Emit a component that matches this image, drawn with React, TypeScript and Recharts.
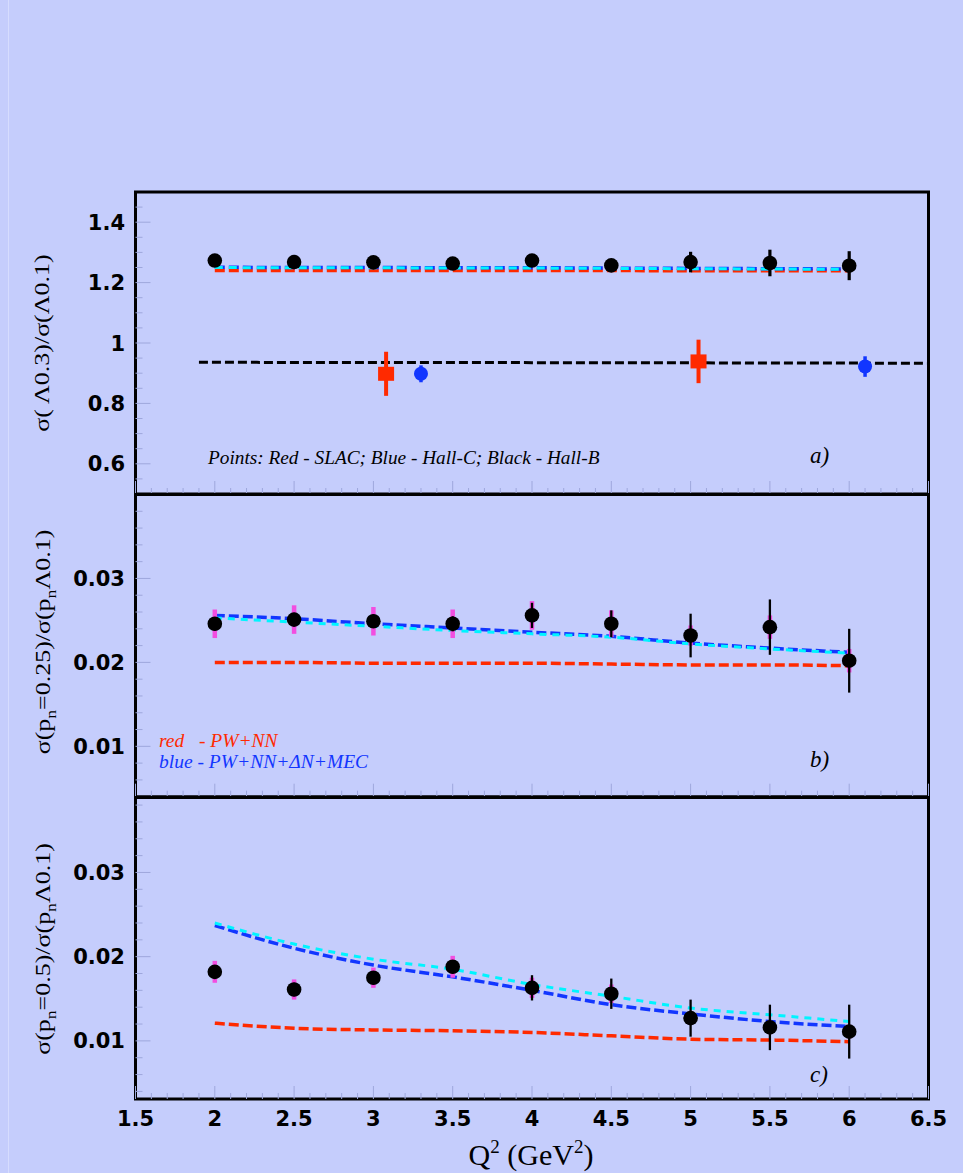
import React from 'react';
import { ComposedChart, Line, Scatter, XAxis, YAxis, ErrorBar, ReferenceArea } from 'recharts';

// Q^2 values (GeV^2) of the measured points and the model curves
const q2 = [2, 2.5, 3, 3.5, 4, 4.5, 5, 5.5, 6];

// panel a) sigma(0.3)/sigma(0.1)
const aHallB = [1.273, 1.268, 1.267, 1.263, 1.273, 1.257, 1.268, 1.265, 1.256];
const aHallBErr = [0.01, 0.01, 0.01, 0.01, 0.01, 0.01, 0.034, 0.044, 0.048];
const aRed = [1.24, 1.24, 1.24, 1.24, 1.24, 1.24, 1.239, 1.239, 1.239];
const aBlue = [1.251, 1.25, 1.25, 1.249, 1.249, 1.248, 1.247, 1.246, 1.245];
const aCyan = [1.25, 1.249, 1.249, 1.248, 1.248, 1.247, 1.246, 1.245, 1.244];
const slacQ2 = [3.08, 5.05];
const slacVal = [0.898, 0.939];
const slacErr = [0.073, 0.072];
const hallCQ2 = [3.3, 6.1];
const hallCVal = [0.898, 0.922];
const hallCErr = [0.028, 0.034];
const refQ2 = [1.9, 4, 6.5];
const refVal = [0.936, 0.935, 0.933];

// panel b) p_n = 0.25
const bPoints = [0.0246, 0.0251, 0.0249, 0.0246, 0.0256, 0.0246, 0.0232, 0.0242, 0.0202];
const bStat = [0.0008, 0.0008, 0.0008, 0.0009, 0.0015, 0.0016, 0.0026, 0.0033, 0.0038];
const bSys = [0.0017, 0.0017, 0.0017, 0.0017, 0.0017, 0.0016, 0.0012, 0.0014, 0.0014];
const bRed = [0.02, 0.02, 0.0199, 0.0199, 0.0199, 0.0198, 0.0197, 0.0197, 0.0196];
const bBlue = [0.0256, 0.0252, 0.0246, 0.0241, 0.0236, 0.0231, 0.0223, 0.0217, 0.0212];
const bCyan = [0.0253, 0.0248, 0.0243, 0.0238, 0.0234, 0.023, 0.0222, 0.0216, 0.0211];

// panel c) p_n = 0.5
const cPoints = [0.0182, 0.0161, 0.0175, 0.0188, 0.0163, 0.0156, 0.0127, 0.0116, 0.0111];
const cStat = [0.0008, 0.0008, 0.0008, 0.0008, 0.0015, 0.0018, 0.0022, 0.0027, 0.0032];
const cSys = [0.0013, 0.0012, 0.0012, 0.0013, 0.0012, 0.0011, 0.0008, 0.0008, 0.0008];
const cRed = [0.0121, 0.0115, 0.0113, 0.0112, 0.011, 0.0106, 0.0102, 0.0101, 0.0099];
const cBlue = [0.0237, 0.021, 0.019, 0.0176, 0.016, 0.0143, 0.0132, 0.0123, 0.0117];
const cCyan = [0.024, 0.0215, 0.0197, 0.0185, 0.0167, 0.0153, 0.0139, 0.0131, 0.0123];

// axis ticks (labelled ones)
const xTicks = [1.5, 2, 2.5, 3, 3.5, 4, 4.5, 5, 5.5, 6, 6.5];
const aTicks = [0.6, 0.8, 1, 1.2, 1.4];
const pnTicks = [0.01, 0.02, 0.03];

// minor tick positions between from and to
const steps = (from: number, to: number, step: number) => {
  const n = Math.round((to - from) / step);
  return Array.from({ length: n + 1 }, (_, i) => Math.round((from + i * step) * 10000) / 10000);
};
const xAll = steps(1.5, 6.5, 0.1);

const W = 963;
const BG = '#c5cdfc';
const TICK = '#9ea7dc';
const RED = '#ff2a00';
const BLUE = '#1236ff';
const CYAN = '#00f4ff';
const MAGENTA = '#f24ee0';
const YM = 10.5; // gap between y labels and frame
const XM = 12; // gap between frame and x labels

type Pt = { x: number; y: number; err?: number };
const pts = (xs: number[], ys: number[], errs?: number[]): Pt[] =>
  xs.map((x, i) => ({ x, y: ys[i], err: errs ? errs[i] : undefined }));

const labelFont = { fill: '#000', fontSize: 21, fontWeight: 'bold', fontFamily: 'DejaVu Sans' } as const;

const isIn = (list: number[], v: number) => list.some((t) => Math.abs(t - v) < 1e-9);

// y tick: label for major values, inner tick line for all
const yTick = (major: number[]) => (p: any) => {
  const v = p.payload.value;
  const big = isIn(major, v);
  const x0 = p.x + YM;
  return (
    <g>
      <line x1={x0} x2={x0 + (big ? 15 : 7)} y1={p.y} y2={p.y} stroke={TICK} strokeWidth={1} />
      {big && <text x={p.x} y={p.y} dy="0.36em" textAnchor="end" {...labelFont}>{v}</text>}
    </g>
  );
};

// x tick: inner tick line, label only when asked
const xTick = (withLabel: boolean, margin: number) => (p: any) => {
  const v = p.payload.value;
  const big = isIn(xTicks, v);
  const y0 = p.y - margin;
  return (
    <g>
      <line x1={p.x} x2={p.x} y1={y0} y2={y0 - (big ? 13 : 6)} stroke={TICK} strokeWidth={1} />
      {withLabel && big && <text x={p.x} y={p.y} dy="0.71em" textAnchor="middle" {...labelFont}>{v}</text>}
    </g>
  );
};

const dot = (color: string, r: number) => (p: any) => <circle cx={p.cx} cy={p.cy} r={r} fill={color} />;
const square = (color: string) => (p: any) => <rect x={p.cx - 8} y={p.cy - 7} width={16} height={14} fill={color} />;
const none = () => <g />;

const curve = (key: string, data: Pt[], color: string, width: number, dash: string) => (
  <Line key={key} data={data} dataKey="y" type="monotone" stroke={color} strokeWidth={width}
    strokeDasharray={dash} dot={false} activeDot={false} isAnimationActive={false} />
);

const points = (key: string, data: Pt[], shape: any, barColor: string, barWidth: number) => (
  <Scatter key={key} data={data} dataKey="y" shape={shape} isAnimationActive={false}>
    <ErrorBar dataKey="err" direction="y" width={0} stroke={barColor} strokeWidth={barWidth} isAnimationActive={false} />
  </Scatter>
);

const measured = (vals: number[], stat: number[], sys: number[]) => [
  points('sys', pts(q2, vals, sys), none, MAGENTA, 4.5),
  points('stat', pts(q2, vals, stat), dot('#000', 7.3), '#000', 2.3),
];

const modelCurves = (red: number[], blue: number[], cyan: number[]) => [
  curve('red', pts(q2, red), RED, 3.5, '10 4'),
  curve('blue', pts(q2, blue), BLUE, 3.5, '10 4'),
  curve('cyan', pts(q2, cyan), CYAN, 3, '7 6'),
];

function Panel({ top, height, margin, yDomain, yMajor, yAll, showX, children }: any) {
  const xm = showX ? XM : 0;
  return (
    <div style={{ position: 'absolute', left: 0, top, width: W, height }}>
      <ComposedChart width={W} height={height} margin={margin}>
        <XAxis dataKey="x" type="number" domain={[1.5, 6.5]} allowDataOverflow ticks={xAll} interval={0}
          height={showX ? 40 : 1} tickLine={false} axisLine={false} tickSize={0} tickMargin={xm}
          tick={xTick(showX, xm)} />
        <YAxis dataKey="y" type="number" domain={yDomain} allowDataOverflow ticks={yAll} interval={0}
          width={135.5} tickLine={false} axisLine={false} tickSize={0} tickMargin={YM} tick={yTick(yMajor)} />
        {children}
        <ReferenceArea x1={1.5} x2={6.5} y1={yDomain[0]} y2={yDomain[1]} fill="none" fillOpacity={0}
          stroke="#000" strokeWidth={3} ifOverflow="visible" />
      </ComposedChart>
    </div>
  );
}

const serif = 'Liberation Serif, Times New Roman, serif';

export default function App() {
  const aDomain = [0.5, 1.5];
  const bDomain = [0.004, 0.04];
  const cDomain = [0.0031, 0.0389];
  return (
    <div style={{ position: 'absolute', left: 0, top: 0, width: W, height: 1173, background: BG, overflow: 'hidden' }}>
      <div style={{ position: 'absolute', left: 8, top: 0, width: 1, height: 1173, background: '#d6dcfe' }} />

      <Panel top={0} height={500} margin={{ top: 192, right: 34.5, bottom: 5, left: 0 }}
        yDomain={aDomain} yMajor={aTicks} yAll={steps(0.55, 1.45, 0.05)} showX={false}>
        {[
          curve('ared', pts(q2, aRed), RED, 3.5, '10 4'),
          curve('ablue', pts(q2, aBlue), BLUE, 3.5, '10 4'),
          curve('acyan', pts(q2, aCyan), CYAN, 3, '8 6'),
          curve('aref', pts(refQ2, refVal), '#000', 3, '9 4'),
          points('hallb', pts(q2, aHallB, aHallBErr), dot('#000', 7.3), '#000', 3.2),
          points('slac', pts(slacQ2, slacVal, slacErr), square(RED), RED, 4),
          points('hallc', pts(hallCQ2, hallCVal, hallCErr), dot(BLUE, 7), BLUE, 3.5),
        ]}
      </Panel>

      <Panel top={480} height={330} margin={{ top: 14.5, right: 34.5, bottom: 12.3, left: 0 }}
        yDomain={bDomain} yMajor={pnTicks} yAll={steps(0.006, 0.038, 0.002)} showX={false}>
        {[...modelCurves(bRed, bBlue, bCyan), ...measured(bPoints, bStat, bSys)]}
      </Panel>

      <Panel top={780} height={393} margin={{ top: 17.5, right: 34.5, bottom: 34, left: 0 }}
        yDomain={cDomain} yMajor={pnTicks} yAll={steps(0.004, 0.038, 0.002)} showX>
        {[...modelCurves(cRed, cBlue, cCyan), ...measured(cPoints, cStat, cSys)]}
      </Panel>

      <svg width={W} height={1173} style={{ position: 'absolute', left: 0, top: 0, pointerEvents: 'none' }}>
        <g fontFamily={serif} fontSize={22} fill="#000">
          <text transform="translate(49,343) rotate(-90) scale(1.18,1)" textAnchor="middle">σ( Λ0.3)/σ(Λ0.1)</text>
          <text transform="translate(50,642) rotate(-90) scale(1.18,1)" textAnchor="middle">
            σ(p<tspan dy={6} fontSize={15}>n</tspan><tspan dy={-6}>=0.25)/σ(p</tspan>
            <tspan dy={6} fontSize={15}>n</tspan><tspan dy={-6}>Λ0.1)</tspan>
          </text>
          <text transform="translate(50,949) rotate(-90) scale(1.18,1)" textAnchor="middle">
            σ(p<tspan dy={6} fontSize={15}>n</tspan><tspan dy={-6}>=0.5)/σ(p</tspan>
            <tspan dy={6} fontSize={15}>n</tspan><tspan dy={-6}>Λ0.1)</tspan>
          </text>
        </g>
        <text x={531} y={1165} textAnchor="middle" fontFamily={serif} fontSize={30} fill="#000">
          Q<tspan dy={-12} fontSize={19}>2</tspan><tspan dy={12}> (GeV</tspan>
          <tspan dy={-12} fontSize={19}>2</tspan><tspan dy={12}>)</tspan>
        </text>
        <g fontFamily={serif} fontStyle="italic">
          <text x={208} y={464} fontSize={19.3} fill="#000">Points: Red - SLAC; Blue - Hall-C; Black - Hall-B</text>
          <text x={810} y={463} fontSize={23} fill="#000">a)</text>
          <text x={159} y={746.5} fontSize={19.5} fill={RED} style={{ whiteSpace: 'pre' }}>red   - PW+NN</text>
          <text x={159} y={767.5} fontSize={19.5} fill={BLUE}>blue - PW+NN+ΔN+MEC</text>
          <text x={810} y={766.5} fontSize={23} fill="#000">b)</text>
          <text x={810} y={1082} fontSize={23} fill="#000">c)</text>
        </g>
      </svg>
    </div>
  );
}
